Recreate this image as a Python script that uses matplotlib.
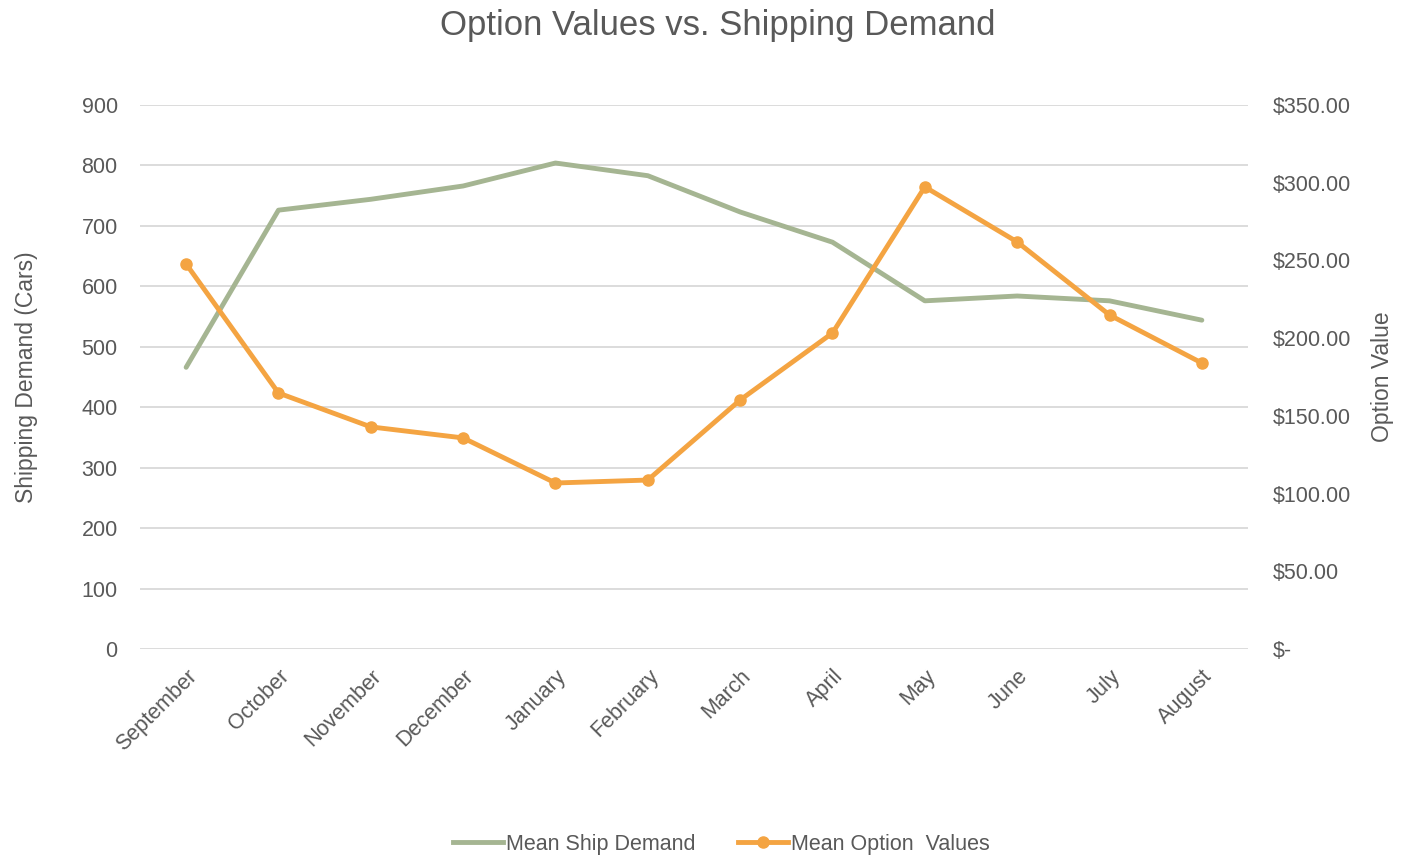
import matplotlib.pyplot as plt
from matplotlib.ticker import FuncFormatter
from matplotlib.lines import Line2D

plt.rcParams['font.family'] = ['Liberation Sans', 'DejaVu Sans']

months = ['September', 'October', 'November', 'December', 'January', 'February',
          'March', 'April', 'May', 'June', 'July', 'August']
ship_demand = [466, 726, 744, 766, 804, 783, 723, 673, 576, 584, 576, 544]
option_values = [247.7, 164.7, 142.9, 135.8, 106.8, 108.7, 160.2, 203.3, 297.3,
                 261.9, 214.9, 184.0]

grey = '#595959'
green = '#a5b592'
orange = '#f4a442'

fig = plt.figure(figsize=(14.01, 8.57), dpi=100)
ax = fig.add_axes([0.0999, 0.2427, 0.7909, 0.6348])
ax2 = ax.twinx()

x = list(range(len(months)))
ax.plot(x, ship_demand, color=green, lw=3.5, solid_capstyle='round', zorder=3)
ax2.plot(x, option_values, color=orange, lw=3.5, marker='o', ms=8,
         solid_capstyle='round', zorder=3)

ax.set_xlim(-0.5, len(months) - 0.5)
ax.set_ylim(0, 900)
ax.set_yticks(range(0, 901, 100))
ax2.set_ylim(0, 350)
ax2.set_yticks(range(0, 351, 50))
ax2.yaxis.set_major_formatter(
    FuncFormatter(lambda v, p: '$-' if v == 0 else '${:,.2f}'.format(v)))

ax.grid(axis='y', color='#d9d9d9', lw=1.3)
ax.set_axisbelow(True)
for a in (ax, ax2):
    for s in a.spines.values():
        s.set_visible(False)
    a.tick_params(length=0, colors=grey, labelsize=15.5)
ax.tick_params(axis='y', pad=16)
ax2.tick_params(axis='y', pad=18)

ax.set_xticks(x)
ax.set_xticklabels(months, rotation=45, ha='right', va='top',
                   rotation_mode='anchor')
ax.tick_params(axis='x', pad=12)

ax.set_ylabel('Shipping Demand (Cars)', color=grey, fontsize=16.5, labelpad=31)
ax2.set_ylabel('Option Value', color=grey, fontsize=16.5, labelpad=14)

fig.suptitle('Option Values vs. Shipping Demand', color=grey, fontsize=25,
             x=0.512, y=0.99)

handles = [Line2D([], [], color=green, lw=3.5),
           Line2D([], [], color=orange, lw=3.5, marker='o', ms=8)]
fig.legend(handles, ['Mean Ship Demand', 'Mean Option  Values'],
           loc='lower center', bbox_to_anchor=(0.515, -0.02), ncol=2,
           frameon=False, fontsize=15.5, labelcolor=grey, handlelength=2.3,
           handletextpad=0.15, columnspacing=2.0)

plt.savefig('out.png', dpi=100)
